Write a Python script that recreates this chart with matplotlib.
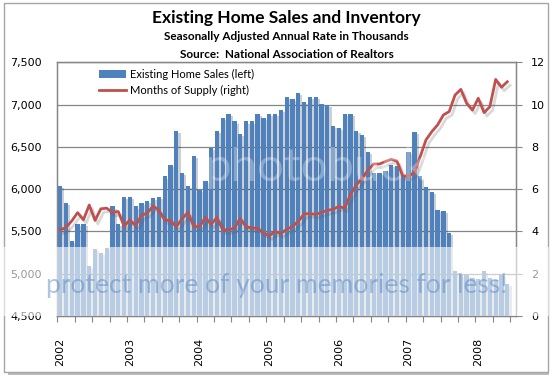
import matplotlib
matplotlib.use('Agg')
import matplotlib.pyplot as plt
import matplotlib.patheffects as pe
from matplotlib.patches import Rectangle
from matplotlib.lines import Line2D
from matplotlib.patches import Patch
import numpy as np

# ---------------- data ----------------
years = ['2002', '2003', '2004', '2005', '2006', '2007', '2008']
# Existing home sales, SAAR thousands, Jan 2002 .. Jun 2008
sales = [6040, 5835, 5390, 5590, 5590, 5095, 5290, 5245, 5305, 5795, 5590, 5905,
         5910, 5795, 5835, 5865, 5895, 5905, 6150, 6285, 6690, 6190, 6040, 6395,
         5990, 6100, 6490, 6690, 6840, 6890, 6800, 6650, 6800, 6800, 6890, 6840,
         6890, 6890, 6940, 7090, 7065, 7135, 7035, 7090, 7090, 7010, 7000, 6750,
         6720, 6890, 6890, 6690, 6640, 6445, 6190, 6190, 6210, 6290, 6270, 6170,
         6435, 6680, 6150, 6030, 5970, 5755, 5745, 5480, 5030, 4990, 4990, 4950,
         4940, 5030, 4950, 4930, 4990, 4880]
# Months of supply
supply = [4.07, 4.19, 4.50, 4.89, 4.55, 5.25, 4.52, 5.07, 5.10, 4.90, 4.94, 4.25,
          4.54, 4.28, 4.76, 4.87, 5.20, 5.00, 4.54, 4.52, 4.23, 4.60, 4.90, 4.23,
          4.23, 4.66, 4.34, 4.66, 4.07, 4.08, 4.15, 4.62, 4.23, 4.16, 4.15, 3.94,
          3.79, 4.00, 3.90, 4.10, 4.23, 4.48, 4.82, 4.85, 4.80, 4.90, 4.99, 5.05,
          5.18, 5.10, 5.75, 6.20, 6.51, 6.90, 7.19, 7.19, 7.30, 7.41, 7.33, 6.62,
          6.62, 6.78, 7.54, 8.33, 8.72, 9.04, 9.51, 9.67, 10.45, 10.72, 10.06, 9.74,
          10.30, 9.62, 9.90, 11.19, 10.82, 11.08]
left_ticks = [4500, 5000, 5500, 6000, 6500, 7000, 7500]
right_ticks = [0, 2, 4, 6, 8, 10, 12]

title = 'Existing Home Sales and Inventory'
subtitle1 = 'Seasonally Adjusted Annual Rate in Thousands'
subtitle2 = 'Source:  National Association of Realtors'

# ---------------- layout helpers ----------------
W, H = 555, 378
def fx(px):
    return px / W
def fy(py):
    return 1 - py / H

BLUE = '#4F81BD'
RED = '#C0504D'
GRID = '#868686'

fig = plt.figure(figsize=(W / 100, H / 100), dpi=100)
fig.patch.set_facecolor('white')

# outer frame with soft shadow
fig.add_artist(Rectangle((fx(8), fy(375)), fx(549) - fx(8), fy(7) - fy(375),
                         transform=fig.transFigure, facecolor='#BBBBBB',
                         edgecolor='none', zorder=-3))
fig.add_artist(Rectangle((fx(4), fy(372)), fx(548) - fx(4), fy(3) - fy(372),
                         transform=fig.transFigure, facecolor='white',
                         edgecolor='#A6A6A6', lw=1.0, zorder=-2))

ax = fig.add_axes([fx(57.3), fy(316), fx(516) - fx(57.3), fy(62.3) - fy(316)])
ax.set_facecolor('none')

n = len(sales)
x = np.arange(n) + 0.5
ax.bar(x, sales, width=0.74, color=BLUE, zorder=2,
       path_effects=[pe.SimplePatchShadow(offset=(1.5, -1.5), alpha=0.22),
                     pe.Normal()])
ax.set_xlim(0, n + 1)
ax.set_ylim(left_ticks[0], left_ticks[-1])
ax.set_yticks(left_ticks)
ax.set_yticklabels([f'{v:,}' for v in left_ticks])
ax.yaxis.grid(True, color=GRID, lw=0.9)
ax.set_axisbelow(True)
ax.tick_params(axis='y', length=0, pad=11, labelsize=8, labelcolor='black')

# x axis: ticks every 3 months, year labels centred on January
ax.set_xticks(np.arange(0, n + 1, 3))
ax.set_xticklabels([])
ax.tick_params(axis='x', which='major', length=4, color=GRID, direction='out')
ax.set_xticks([12 * i + 0.5 for i in range(len(years))], minor=True)
ax.set_xticklabels(years, minor=True, rotation=90, fontsize=8)
ax.tick_params(axis='x', which='minor', length=0, pad=16)

for s in ['left', 'right', 'top', 'bottom']:
    ax.spines[s].set_color(GRID)
    ax.spines[s].set_linewidth(0.9)

ax2 = ax.twinx()
ax2.plot(x, supply, color=RED, lw=2.0, solid_joinstyle='round',
         path_effects=[pe.SimpleLineShadow(offset=(2, -2.5), alpha=0.22,
                                           shadow_color='#555555'),
                       pe.Normal()])
ax2.set_ylim(right_ticks[0], right_ticks[-1])
ax2.set_yticks(right_ticks)
ax2.tick_params(axis='y', length=4, color=GRID, pad=7, labelsize=8)
for s in ['left', 'right', 'top', 'bottom']:
    ax2.spines[s].set_color(GRID)
    ax2.spines[s].set_linewidth(0.9)

# legend
handles = [Patch(facecolor=BLUE, edgecolor='none', label='Existing Home Sales (left)'),
           Line2D([0], [0], color=RED, lw=2.0, label='Months of Supply (right)')]
leg = fig.legend(handles=handles, loc='upper left',
                 bbox_to_anchor=(fx(99), fy(69)), frameon=False,
                 prop={'family': 'Lato', 'size': 8}, handlelength=2.4,
                 handletextpad=0.35, borderpad=0, borderaxespad=0,
                 labelspacing=0.45)

# titles
fig.text(fx(286.7), fy(18), title, ha='center', va='center',
         fontsize=12.5, fontweight='bold', family='Lato')
fig.text(fx(286.7), fy(37), subtitle1, ha='center', va='center',
         fontsize=8.5, fontweight='bold', family='Lato')
fig.text(fx(286.7), fy(55), subtitle2, ha='center', va='center',
         fontsize=8.5, fontweight='bold', family='Lato')

# image-host watermark band across the lower part
fig.add_artist(Rectangle((0, fy(316)), fx(549), fy(247) - fy(316),
                         transform=fig.transFigure, facecolor='white',
                         edgecolor='none', alpha=0.6, zorder=10))
fig.text(fx(46), fy(286), 'protect more of your memories for less!',
         ha='left', va='center', fontsize=19, family='Lato',
         color='#4F81BD', alpha=0.45, zorder=11)
fig.text(fx(205), fy(168), 'photobucket', ha='left', va='center',
         fontsize=34, family='Lato', color='white', alpha=0.3, zorder=11)

fig.savefig('out.png', dpi=100)
